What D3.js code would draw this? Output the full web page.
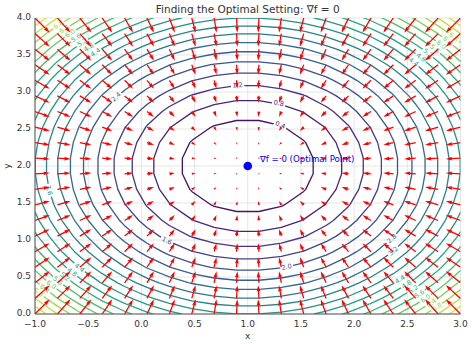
<!DOCTYPE html>
<html>
<head>
<meta charset="utf-8">
<script src="https://cdn.jsdelivr.net/npm/d3@7"></script>
<style>
  body { margin: 0; background: #fff; }
  svg { display: block; font-family: "DejaVu Sans", sans-serif; }
</style>
</head>
<body>
<svg id="chart" width="474" height="344"></svg>
<script>
// Sample grid (20 x 20) on which the field and the gradient are evaluated
const gridX = [-1.0, -0.7895, -0.5789, -0.3684, -0.1579, 0.0526, 0.2632, 0.4737, 0.6842, 0.8947,
               1.1053, 1.3158, 1.5263, 1.7368, 1.9474, 2.1579, 2.3684, 2.5789, 2.7895, 3.0];
const gridY = [0.0, 0.2105, 0.4211, 0.6316, 0.8421, 1.0526, 1.2632, 1.4737, 1.6842, 1.8947,
               2.1053, 2.3158, 2.5263, 2.7368, 2.9474, 3.1579, 3.3684, 3.5789, 3.7895, 4.0];
// Minimum of the objective
const optimum = [1, 2];
// Contour levels
const levels = [0.4, 0.8, 1.2, 1.6, 2.0, 2.4, 2.8, 3.2, 3.6, 4.0,
                4.4, 4.8, 5.2, 5.6, 6.0, 6.4, 6.8, 7.2, 7.6];
const colorMax = 8.0;
// Axis ticks
const xTicks = [-1.0, -0.5, 0.0, 0.5, 1.0, 1.5, 2.0, 2.5, 3.0];
const yTicks = [0.0, 0.5, 1.0, 1.5, 2.0, 2.5, 3.0, 3.5, 4.0];
// Levels that get an inline label on their closed ring, and on each corner arc
const ringLabelLevels = [0.4, 0.8, 1.2, 1.6, 2.0, 2.4, 2.8, 3.2, 3.6];
const ringLabelAngles = [61, 71, 95, 233, 285, 143, 324, 320, 190];
const arcLabelLevels = [4.4, 4.8, 5.2, 5.6, 6.0, 6.4, 6.8];
const cornerAngles = [133, 42, 221, 313];

// Objective and its gradient
const f = (x, y) => (x - optimum[0]) ** 2 + (y - optimum[1]) ** 2;
const grad = (x, y) => [2 * (x - optimum[0]), 2 * (y - optimum[1])];

const svg = d3.select("#chart");
const W = 474, H = 344;
const plot = { left: 35, right: 460.5, top: 18, bottom: 314 };
const pw = plot.right - plot.left, ph = plot.bottom - plot.top;

const x = d3.scaleLinear().domain([-1, 3]).range([plot.left, plot.right]);
const y = d3.scaleLinear().domain([0, 4]).range([plot.bottom, plot.top]);
const color = l => d3.interpolateViridis(l / colorMax);

const defs = svg.append("defs");
defs.append("clipPath").attr("id", "plotClip")
  .append("rect").attr("x", plot.left).attr("y", plot.top).attr("width", pw).attr("height", ph);

// Grid
const grid = svg.append("g").attr("stroke", "#dedede").attr("stroke-width", 0.8);
grid.selectAll("line.gx").data(xTicks).join("line")
  .attr("x1", d => x(d)).attr("x2", d => x(d)).attr("y1", plot.top).attr("y2", plot.bottom);
grid.selectAll("line.gy").data(yTicks).join("line")
  .attr("y1", d => y(d)).attr("y2", d => y(d)).attr("x1", plot.left).attr("x2", plot.right);

// Contours via marching squares on the grid
const nx = gridX.length, ny = gridY.length;
const values = new Array(nx * ny);
for (let j = 0; j < ny; j++) for (let i = 0; i < nx; i++) values[i + j * nx] = f(gridX[i], gridY[j]);
const contours = d3.contours().size([nx, ny]).thresholds(levels)(values);
const gx = d3.scaleLinear().domain([0.5, nx - 0.5]).range([x(gridX[0]), x(gridX[nx - 1])]);
const gy = d3.scaleLinear().domain([0.5, ny - 0.5]).range([y(gridY[0]), y(gridY[ny - 1])]);
const path = d3.geoPath(d3.geoTransform({
  point(px, py) { this.stream.point(gx(px), gy(py)); }
}));

const mask = defs.append("mask").attr("id", "labelGaps")
  .attr("maskUnits", "userSpaceOnUse").attr("x", 0).attr("y", 0).attr("width", W).attr("height", H);
mask.append("rect").attr("width", W).attr("height", H).attr("fill", "white");

const contourLayer = svg.append("g").attr("clip-path", "url(#plotClip)");
contourLayer.append("g").attr("mask", "url(#labelGaps)")
  .selectAll("path").data(contours).join("path")
  .attr("d", path).attr("fill", "none")
  .attr("stroke", d => color(d.value)).attr("stroke-width", 1.3)
  .attr("stroke-linejoin", "round");

// Inline contour labels
const labelItems = [];
ringLabelLevels.forEach((l, i) => labelItems.push({ level: l, angle: ringLabelAngles[i] }));
cornerAngles.forEach(a => arcLabelLevels.forEach(l => labelItems.push({ level: l, angle: a })));
const sx = x(1) - x(0), sy = y(0) - y(1);
const labelLayer = contourLayer.append("g")
  .attr("font-size", 6.5).attr("text-anchor", "middle").attr("dominant-baseline", "central");
labelItems.forEach(d => {
  const t = d.angle * Math.PI / 180, r = Math.sqrt(d.level);
  const px = x(optimum[0] + r * Math.cos(t)), py = y(optimum[1] + r * Math.sin(t));
  let rot = Math.atan2(-Math.cos(t) * sy, -Math.sin(t) * sx) * 180 / Math.PI;
  if (rot > 90) rot -= 180;
  if (rot <= -90) rot += 180;
  const txt = labelLayer.append("text")
    .attr("transform", `translate(${px},${py}) rotate(${rot})`)
    .attr("fill", color(d.level)).text(d3.format(".1f")(d.level));
  const w = txt.node().getComputedTextLength() + 3;
  mask.append("rect").attr("x", -w / 2).attr("y", -3).attr("width", w).attr("height", 6)
    .attr("transform", `translate(${px},${py}) rotate(${rot})`).attr("fill", "black");
});

// Quiver of the negative gradient (tail at the grid point)
const vecs = [];
gridY.forEach(yy => gridX.forEach(xx => {
  const g = grad(xx, yy);
  vecs.push({ x: xx, y: yy, u: -g[0], v: -g[1], a: Math.hypot(g[0], g[1]) });
}));
const N = vecs.length;
const amean = d3.mean(vecs, d => d.a);
const widthFrac = 0.06 / Math.min(25, Math.max(8, Math.sqrt(N)));
const scale = 1.8 * amean * Math.max(10, Math.sqrt(N));
const shaftPx = widthFrac * pw;
const headWidth = 3, headLength = 5, headAxisLength = 4.5, minLength = 1;

function arrowShape(L) {
  if (L < minLength) {
    return d3.range(8).map(k => [Math.cos(k * Math.PI / 3) * 0.5 * minLength,
                                 Math.sin(k * Math.PI / 3) * 0.5 * minLength]);
  }
  let xs, ys;
  if (L < headLength) {
    const s = L / headLength;
    xs = [0, headLength - headAxisLength, 0, headLength].map(v => v * s);
    ys = [0.5, 0.5, 0.5 * headWidth, 0].map(v => v * s);
  } else {
    xs = [0, L - headAxisLength, L - headLength, L];
    ys = [0.5, 0.5, 0.5 * headWidth, 0];
  }
  const ii = [0, 1, 2, 3, 2, 1, 0];
  return ii.map((k, n) => [xs[k], n >= 3 ? -ys[k] : ys[k]]);
}

svg.append("g").attr("clip-path", "url(#plotClip)")
  .selectAll("path").data(vecs).join("path")
  .attr("fill", "red")
  .attr("d", d => {
    const L = d.a / (scale * widthFrac);
    const phi = Math.atan2(-d.v, d.u);
    const c = Math.cos(phi), s = Math.sin(phi);
    const tx = x(d.x), ty = y(d.y);
    const pts = arrowShape(L).map(([ax, ay]) => [tx + (ax * c - ay * s) * shaftPx, ty + (ax * s + ay * c) * shaftPx]);
    return "M" + pts.map(p => p[0].toFixed(2) + "," + p[1].toFixed(2)).join("L") + "Z";
  });

// Optimal point
svg.append("circle").attr("cx", x(optimum[0])).attr("cy", y(optimum[1])).attr("r", 4.3).attr("fill", "blue");
svg.append("text").attr("x", x(1.115)).attr("y", y(2.06)).attr("fill", "blue")
  .attr("font-size", 8.6).text("∇f = 0 (Optimal Point)");

// Axes
const axisColor = "#555";
svg.append("line").attr("x1", plot.left).attr("x2", plot.left).attr("y1", plot.top).attr("y2", plot.bottom)
  .attr("stroke", axisColor).attr("stroke-width", 1);
svg.append("line").attr("x1", plot.left).attr("x2", plot.right).attr("y1", plot.bottom).attr("y2", plot.bottom)
  .attr("stroke", axisColor).attr("stroke-width", 1);

svg.append("g").attr("font-size", 9).attr("fill", "#333").attr("text-anchor", "middle")
  .selectAll("text").data(xTicks).join("text")
  .attr("x", d => x(d)).attr("y", plot.bottom + 13).text(d => d3.format(".1f")(d).replace("-", "\u2212"));
svg.append("g").attr("font-size", 9).attr("fill", "#333").attr("text-anchor", "end")
  .selectAll("text").data(yTicks).join("text")
  .attr("x", plot.left - 4).attr("y", d => y(d) + 2.3).text(d => d3.format(".1f")(d));

svg.append("text").attr("x", (plot.left + plot.right) / 2).attr("y", 338.5).attr("text-anchor", "middle")
  .attr("font-size", 9).attr("fill", "#333").text("x");
svg.append("text").attr("transform", `translate(10,${(plot.top + plot.bottom) / 2}) rotate(-90)`)
  .attr("text-anchor", "middle").attr("font-size", 9).attr("fill", "#333").text("y");

svg.append("text").attr("x", (plot.left + plot.right) / 2).attr("y", 13).attr("text-anchor", "middle")
  .attr("font-size", 10.5).attr("fill", "#333").text("Finding the Optimal Setting: ∇f = 0");
</script>
</body>
</html>
